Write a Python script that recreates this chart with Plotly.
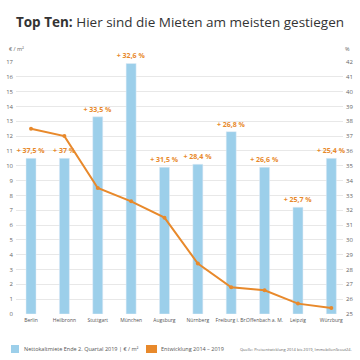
import plotly.graph_objects as go

cities = ["Berlin", "Heilbronn", "Stuttgart", "München", "Augsburg", "Nürnberg",
          "Freiburg i. Br.", "Offenbach a. M.", "Leipzig", "Würzburg"]
rent = [10.5, 10.5, 13.3, 16.9, 9.9, 10.1, 12.3, 9.9, 7.2, 10.5]
growth = [37.5, 37.0, 33.5, 32.6, 31.5, 28.4, 26.8, 26.6, 25.7, 25.4]
growth_labels = ["+ 37,5 %", "+ 37 %", "+ 33,5 %", "+ 32,6 %", "+ 31,5 %", "+ 28,4 %",
                 "+ 26,8 %", "+ 26,6 %", "+ 25,7 %", "+ 25,4 %"]

BLUE = "#9ccfea"
ORANGE = "#e8892b"
FONT = "Open Sans"

L, R, T, B = 16, 17, 62, 46
PW, PH = 360 - L - R, 360 - T - B


def px(x):
    return (x - L) / PW


def py(y):
    return (360 - B - y) / PH


fig = go.Figure()
fig.add_trace(go.Bar(
    x=cities, y=rent, marker_color=BLUE, width=0.3,
    text=growth_labels, textposition="outside", constraintext="none",
    texttemplate="<b>%{text}</b>",
    textfont=dict(color=ORANGE, size=7, family=FONT),
    cliponaxis=False, hoverinfo="skip", showlegend=False,
))
fig.add_trace(go.Scatter(
    x=cities, y=growth, yaxis="y2", mode="lines+markers",
    line=dict(color=ORANGE, width=2), marker=dict(size=4, color=ORANGE),
    showlegend=False,
))

shapes = [
    dict(type="rect", xref="paper", yref="paper", x0=px(11), x1=px(19), y0=py(353), y1=py(345),
         fillcolor=BLUE, line_width=0),
    dict(type="rect", xref="paper", yref="paper", x0=px(146), x1=px(157), y0=py(353), y1=py(345),
         fillcolor=ORANGE, line_width=0),
]

fig.update_layout(
    width=360, height=360,
    margin=dict(l=L, r=R, t=T, b=B),
    paper_bgcolor="white", plot_bgcolor="white",
    font=dict(family=FONT, color="#555"),
    title=dict(text="<b>Top Ten:</b> Hier sind die Mieten am meisten gestiegen",
               x=0.5, xanchor="center", y=1 - 22 / 360, yanchor="middle",
               font=dict(size=13.5, color="#333", family=FONT)),
    bargap=0.7,
    showlegend=False,
    xaxis=dict(range=[-0.45, 9.35], showgrid=False, showline=False, ticks="",
               tickangle=0, automargin=False, ticklabelstandoff=2,
               tickfont=dict(size=5, color="#555")),
    yaxis=dict(range=[0, 17], dtick=1, showgrid=True, gridcolor="#e8e8e8",
               zeroline=False, automargin=False, ticklabelstandoff=2,
               tickfont=dict(size=6, color="#666")),
    yaxis2=dict(range=[25, 42], dtick=1, overlaying="y", side="right",
                showgrid=False, zeroline=False, automargin=False, ticklabelstandoff=2,
                tickfont=dict(size=6, color="#666")),
    shapes=shapes,
    annotations=[
        dict(text="€ / m²", xref="paper", yref="paper", x=px(7), y=py(49),
             xanchor="left", yanchor="middle", showarrow=False,
             font=dict(size=5.5, color="#666")),
        dict(text="%", xref="paper", yref="paper", x=px(352), y=py(49),
             xanchor="right", yanchor="middle", showarrow=False,
             font=dict(size=5.5, color="#666")),
        dict(text="Nettokaltmiete Ende 2. Quartal 2019 | € / m²", xref="paper", yref="paper",
             x=px(22), y=py(349), xanchor="left", yanchor="middle", showarrow=False,
             font=dict(size=5.5, color="#555")),
        dict(text="Entwicklung 2014 – 2019", xref="paper", yref="paper",
             x=px(159), y=py(349), xanchor="left", yanchor="middle", showarrow=False,
             font=dict(size=5.5, color="#555")),
        dict(text="Quelle: Preisentwicklung 2014 bis 2019, ImmobilienScout24.",
             xref="paper", yref="paper", x=px(354), y=py(349),
             xanchor="right", yanchor="middle", showarrow=False,
             font=dict(size=4, color="#666")),
    ],
)

fig.write_html("out.html", config={"displayModeBar": False},
               post_script="document.body.style.margin='0';document.body.style.overflow='hidden';")
